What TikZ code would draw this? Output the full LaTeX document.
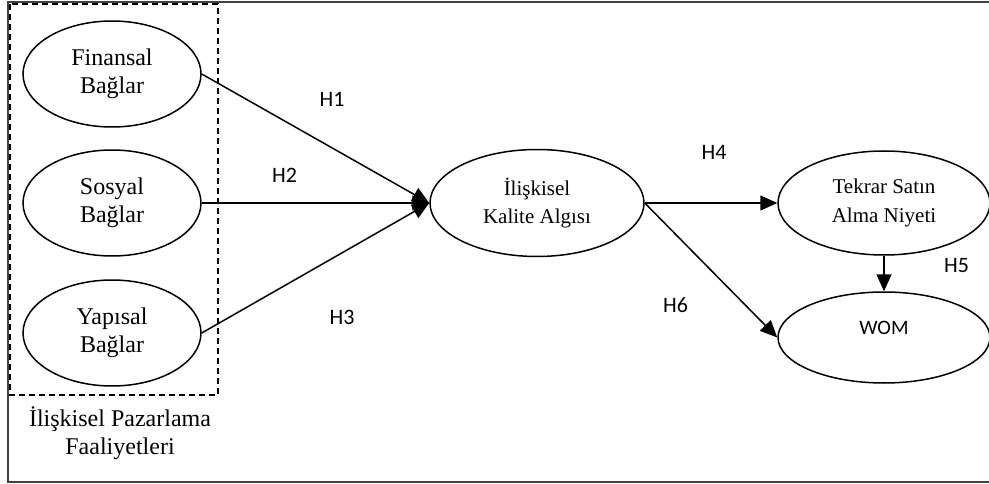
\documentclass[tikz,border=0pt]{standalone}
\usepackage{fontspec}
\setmainfont{Liberation Serif}
\newfontfamily\labelfont{Carlito}
\usetikzlibrary{shapes.geometric,arrows.meta}

\tikzset{
  construct/.style={ellipse, draw, line width=1.5pt, inner sep=0pt,
    align=center, minimum width=178pt, minimum height=106pt},
  bigtext/.style={font=\fontsize{24}{28}\selectfont},
  midtext/.style={font=\fontsize{21}{28.5}\selectfont},
  hyp/.style={font=\labelfont\fontsize{22}{24}\selectfont, inner sep=0pt},
  path/.style={line width=1.5pt, -{Triangle[length=17pt,width=15pt]}},
  frame/.style={line width=1.3pt, black!75},
  group/.style={line width=1.4pt, dash pattern=on 6pt off 4pt}
}

\begin{document}
\begin{tikzpicture}[x=1pt,y=-1pt]
  \useasboundingbox (0,0) rectangle (989,484);

  % outer frame (open on the right)
  \draw[frame] (1000,2) -- (8,2) -- (8,482) -- (1000,482);

  % relationship-marketing group
  \draw[group] (10,4) rectangle (218,395);
  \node[bigtext, align=center] (grp) at (120,433)
    {İlişkisel Pazarlama\\Faaliyetleri};

  % constructs
  \node[construct, bigtext] (fin) at (112,74)  {Finansal\\Bağlar};
  \node[construct, bigtext] (sos) at (112,203) {Sosyal\\Bağlar};
  \node[construct, bigtext] (yap) at (112,333) {Yapısal\\Bağlar};
  \node[construct, midtext, minimum width=214pt, minimum height=107pt]
    (kal) at (537,203) {İlişkisel\\Kalite Algısı};
  \node[construct, midtext, minimum width=212pt, minimum height=104pt]
    (tek) at (884,203) {Tekrar Satın\\Alma Niyeti};
  \node[construct, font=\labelfont\fontsize{20.5}{24}\selectfont,
    minimum width=212pt, minimum height=91pt]
    (wom) at (884,337.5) {\raisebox{3pt}[0pt][0pt]{WOM}};

  % hypothesised paths
  \draw[path] (fin.east) -- (kal.west);
  \draw[path] (sos.east) -- (kal.west);
  \draw[path] (yap.east) -- (kal.west);
  \draw[path] (kal.east) -- (tek.west);
  \draw[path] (kal.east) -- (wom.west);
  \draw[path] (tek.south) -- (wom.north);

  % hypothesis labels
  \node[hyp] (h1) at (332,99.5)  {H1};
  \node[hyp] (h2) at (284.5,175.5) {H2};
  \node[hyp] (h3) at (342,317.5) {H3};
  \node[hyp] (h4) at (714,152)   {H4};
  \node[hyp] (h5) at (956.5,266) {H5};
  \node[hyp] (h6) at (675.5,305.5) {H6};
\end{tikzpicture}
\end{document}
